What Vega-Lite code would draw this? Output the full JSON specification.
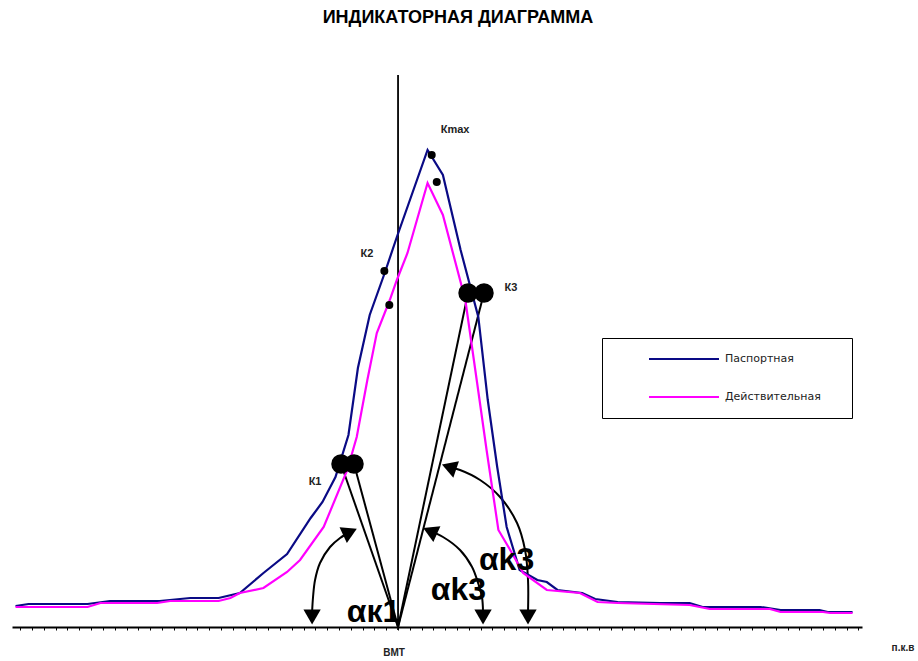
{
  "$schema": "https://vega.github.io/schema/vega-lite/v6.json",
  "width": 850,
  "height": 587,
  "autosize": {"type": "none"},
  "padding": {"left": 12, "top": 40, "right": 56, "bottom": 34},
  "background": "white",
  "title": {"text": "ИНДИКАТОРНАЯ ДИАГРАММА", "font": "Liberation Sans", "fontSize": 18, "fontWeight": "bold", "color": "#000", "anchor": "middle", "dx": 21, "offset": 13},
  "config": {"view": {"stroke": null}, "font": "Liberation Sans"},
  "datasets": {
    "curves": [
      {"series": "Паспортная", "deg": 36, "p": 2.1}, {"series": "Паспортная", "deg": 47, "p": 2.3}, {"series": "Паспортная", "deg": 97, "p": 2.3}, {"series": "Паспортная", "deg": 116, "p": 2.6}, {"series": "Паспортная", "deg": 158, "p": 2.6}, {"series": "Паспортная", "deg": 184, "p": 2.9}, {"series": "Паспортная", "deg": 208, "p": 2.9}, {"series": "Паспортная", "deg": 226, "p": 3.4}, {"series": "Паспортная", "deg": 246, "p": 5.4}, {"series": "Паспортная", "deg": 266, "p": 7.3}, {"series": "Паспортная", "deg": 286, "p": 10.9}, {"series": "Паспортная", "deg": 296, "p": 12.5}, {"series": "Паспортная", "deg": 307, "p": 15.0}, {"series": "Паспортная", "deg": 318, "p": 19.2}, {"series": "Паспортная", "deg": 326, "p": 25.9}, {"series": "Паспортная", "deg": 336, "p": 31.2}, {"series": "Паспортная", "deg": 349, "p": 35.5}, {"series": "Паспортная", "deg": 359, "p": 39.0}, {"series": "Паспортная", "deg": 385, "p": 47.7}, {"series": "Паспортная", "deg": 398, "p": 45.2}, {"series": "Паспортная", "deg": 413, "p": 37.7}, {"series": "Паспортная", "deg": 428, "p": 31.0}, {"series": "Паспортная", "deg": 436, "p": 22.7}, {"series": "Паспортная", "deg": 444, "p": 16.0}, {"series": "Паспортная", "deg": 452, "p": 10.0}, {"series": "Паспортная", "deg": 463, "p": 5.7}, {"series": "Паспортная", "deg": 478, "p": 4.7}, {"series": "Паспортная", "deg": 486, "p": 4.5}, {"series": "Паспортная", "deg": 495, "p": 3.7}, {"series": "Паспортная", "deg": 516, "p": 3.4}, {"series": "Паспортная", "deg": 527, "p": 2.8}, {"series": "Паспортная", "deg": 546, "p": 2.5}, {"series": "Паспортная", "deg": 582, "p": 2.4}, {"series": "Паспортная", "deg": 607, "p": 2.4}, {"series": "Паспортная", "deg": 618, "p": 2.0}, {"series": "Паспортная", "deg": 667, "p": 2.0}, {"series": "Паспортная", "deg": 684, "p": 1.7}, {"series": "Паспортная", "deg": 717, "p": 1.7}, {"series": "Паспортная", "deg": 724, "p": 1.5}, {"series": "Паспортная", "deg": 745, "p": 1.5},
      {"series": "Действительная", "deg": 36, "p": 2.0}, {"series": "Действительная", "deg": 97, "p": 2.0}, {"series": "Действительная", "deg": 108, "p": 2.4}, {"series": "Действительная", "deg": 156, "p": 2.4}, {"series": "Действительная", "deg": 167, "p": 2.6}, {"series": "Действительная", "deg": 208, "p": 2.6}, {"series": "Действительная", "deg": 218, "p": 2.9}, {"series": "Действительная", "deg": 226, "p": 3.4}, {"series": "Действительная", "deg": 246, "p": 3.9}, {"series": "Действительная", "deg": 266, "p": 5.5}, {"series": "Действительная", "deg": 277, "p": 6.7}, {"series": "Действительная", "deg": 297, "p": 10.0}, {"series": "Действительная", "deg": 317, "p": 15.7}, {"series": "Действительная", "deg": 325, "p": 19.0}, {"series": "Действительная", "deg": 334, "p": 24.7}, {"series": "Действительная", "deg": 342, "p": 29.4}, {"series": "Действительная", "deg": 353, "p": 32.7}, {"series": "Действительная", "deg": 359, "p": 34.7}, {"series": "Действительная", "deg": 368, "p": 37.4}, {"series": "Действительная", "deg": 385, "p": 44.4}, {"series": "Действительная", "deg": 398, "p": 41.2}, {"series": "Действительная", "deg": 417, "p": 32.7}, {"series": "Действительная", "deg": 427, "p": 24.4}, {"series": "Действительная", "deg": 435, "p": 17.7}, {"series": "Действительная", "deg": 445, "p": 9.7}, {"series": "Действительная", "deg": 455, "p": 7.7}, {"series": "Действительная", "deg": 466, "p": 5.4}, {"series": "Действительная", "deg": 486, "p": 3.7}, {"series": "Действительная", "deg": 514, "p": 3.4}, {"series": "Действительная", "deg": 529, "p": 2.5}, {"series": "Действительная", "deg": 546, "p": 2.4}, {"series": "Действительная", "deg": 607, "p": 2.2}, {"series": "Действительная", "deg": 624, "p": 1.8}, {"series": "Действительная", "deg": 675, "p": 1.8}, {"series": "Действительная", "deg": 684, "p": 1.5}, {"series": "Действительная", "deg": 720, "p": 1.5}, {"series": "Действительная", "deg": 726, "p": 1.4}, {"series": "Действительная", "deg": 745, "p": 1.4}
    ],
    "arcs": [
      {"arc": "αк1", "seq": 1, "deg": 287.2, "p": 1.5}, {"arc": "αк1", "seq": 2, "deg": 288.0, "p": 3.0}, {"arc": "αк1", "seq": 3, "deg": 289.7, "p": 4.7}, {"arc": "αк1", "seq": 4, "deg": 293.9, "p": 6.4}, {"arc": "αк1", "seq": 5, "deg": 302.4, "p": 8.0}, {"arc": "αк1", "seq": 6, "deg": 310.9, "p": 8.9}, {"arc": "αк1", "seq": 7, "deg": 319.3, "p": 9.5},
      {"arc": "αk3a", "seq": 1, "deg": 432.0, "p": 1.5}, {"arc": "αk3a", "seq": 2, "deg": 431.1, "p": 3.0}, {"arc": "αk3a", "seq": 3, "deg": 427.8, "p": 4.4}, {"arc": "αk3a", "seq": 4, "deg": 422.7, "p": 6.0}, {"arc": "αk3a", "seq": 5, "deg": 412.5, "p": 7.7}, {"arc": "αk3a", "seq": 6, "deg": 398.1, "p": 9.0}, {"arc": "αk3a", "seq": 7, "deg": 387.1, "p": 9.6},
      {"arc": "αk3b", "seq": 1, "deg": 470.1, "p": 1.5}, {"arc": "αk3b", "seq": 2, "deg": 470.1, "p": 4.7}, {"arc": "αk3b", "seq": 3, "deg": 467.6, "p": 7.7}, {"arc": "αk3b", "seq": 4, "deg": 460.8, "p": 10.4}, {"arc": "αk3b", "seq": 5, "deg": 446.4, "p": 13.0}, {"arc": "αk3b", "seq": 6, "deg": 429.5, "p": 14.7}, {"arc": "αk3b", "seq": 7, "deg": 412.5, "p": 15.7}, {"arc": "αk3b", "seq": 8, "deg": 403.2, "p": 16.0}
    ],
    "heads_bottom": [
      {"deg": 287.2, "p": 1.0}, {"deg": 432.0, "p": 1.0}, {"deg": 470.1, "p": 1.0}
    ],
    "heads_top": [
      {"deg": 319.3, "p": 9.5, "heading": 65}, {"deg": 387.1, "p": 9.6, "heading": 294}, {"deg": 403.2, "p": 16.0, "heading": 289}
    ],
    "klines": [
      {"deg": 360, "p": 0, "deg2": 311.7, "p2": 16.3}, {"deg": 360, "p": 0, "deg2": 322.7, "p2": 16.3},
      {"deg": 360, "p": 0, "deg2": 419.3, "p2": 33.4}, {"deg": 360, "p": 0, "deg2": 432.8, "p2": 33.4}
    ],
    "dots": [
      {"deg": 388.5, "p": 47.2, "kind": "small"}, {"deg": 392.8, "p": 44.5, "kind": "small"},
      {"deg": 348.4, "p": 35.6, "kind": "small"}, {"deg": 352.6, "p": 32.2, "kind": "small"},
      {"deg": 311.7, "p": 16.3, "kind": "large"}, {"deg": 322.7, "p": 16.3, "kind": "large"},
      {"deg": 419.3, "p": 33.4, "kind": "large"}, {"deg": 432.8, "p": 33.4, "kind": "large"}
    ],
    "klabels": [
      {"deg": 289.7, "p": 14.5, "text": "К1"}, {"deg": 333.7, "p": 37.3, "text": "К2"},
      {"deg": 455.7, "p": 33.9, "text": "К3"}, {"deg": 408.3, "p": 49.7, "text": "Кmax"}
    ],
    "alabels": [
      {"deg": 339.2, "p": 0.5, "text": "αк1"}, {"deg": 411.2, "p": 2.7, "text": "αk3"}, {"deg": 451.9, "p": 5.7, "text": "αk3"}
    ],
    "axlabels": [
      {"deg": 356.6, "p": -2.6, "text": "ВМТ"}, {"deg": 787.7, "p": -2.1, "text": "п.к.в"}
    ]
  },
  "encoding": {
    "x": {"field": "deg", "type": "quantitative", "scale": {"domain": [33, 753], "nice": false, "zero": false},
      "axis": {"orient": "bottom", "title": null, "labels": false, "grid": false, "domainColor": "#000", "domainWidth": 2, "tickColor": "#000", "tickSize": 3, "tickWidth": 1, "tickCount": 72}},
    "y": {"field": "p", "type": "quantitative", "scale": {"domain": [0, 58.7], "nice": false, "zero": false}, "axis": null}
  },
  "layer": [
    {
      "data": {"values": [{"deg": 360, "p": -0.3, "p2": 55.2}]},
      "mark": {"type": "rule", "color": "#000", "strokeWidth": 1.8},
      "encoding": {"y2": {"field": "p2"}}
    },
    {
      "data": {"name": "klines"},
      "mark": {"type": "rule", "color": "#000", "strokeWidth": 2},
      "encoding": {"x2": {"field": "deg2"}, "y2": {"field": "p2"}}
    },
    {
      "data": {"name": "arcs"},
      "mark": {"type": "line", "interpolate": "catmull-rom", "color": "#000", "strokeWidth": 2},
      "encoding": {"detail": {"field": "arc"}, "order": {"field": "seq"}}
    },
    {
      "data": {"name": "heads_bottom"},
      "mark": {"type": "point", "shape": "triangle-down", "filled": true, "color": "#000", "size": 300, "opacity": 1}
    },
    {
      "data": {"name": "heads_top"},
      "mark": {"type": "point", "shape": "triangle-up", "filled": true, "color": "#000", "size": 300, "opacity": 1},
      "encoding": {"angle": {"field": "heading", "type": "quantitative", "scale": null}}
    },
    {
      "data": {"name": "curves"},
      "mark": {"type": "line", "strokeWidth": 2.2},
      "encoding": {
        "color": {"field": "series", "type": "nominal",
          "scale": {"domain": ["Паспортная", "Действительная"], "range": ["#0a0a85", "#ff00ff"]},
          "legend": {"orient": "none", "legendX": 590, "legendY": 298, "title": " ", "titleOrient": "right", "titleOpacity": 0, "titlePadding": 20,
            "strokeColor": "#000", "fillColor": "white", "padding": 11, "clipHeight": 20, "rowPadding": 18,
            "symbolType": "stroke", "symbolSize": 4900, "symbolStrokeWidth": 2, "symbolOffset": 35, "labelOffset": 5,
            "labelFont": "DejaVu Sans", "labelFontSize": 11, "labelColor": "#222"}
        }
      }
    },
    {
      "data": {"name": "dots"},
      "mark": {"type": "point", "shape": "circle", "filled": true, "color": "#000", "opacity": 1},
      "encoding": {"size": {"field": "kind", "type": "nominal", "scale": {"domain": ["small", "large"], "range": [64, 380]}, "legend": null}}
    },
    {
      "data": {"name": "klabels"},
      "mark": {"type": "text", "font": "Liberation Sans", "fontSize": 11, "fontWeight": "bold", "color": "#222", "align": "center", "baseline": "middle"},
      "encoding": {"text": {"field": "text"}}
    },
    {
      "data": {"name": "alabels"},
      "mark": {"type": "text", "font": "Liberation Sans", "fontSize": 32, "fontWeight": "bold", "color": "#000", "align": "center", "baseline": "alphabetic"},
      "encoding": {"text": {"field": "text"}}
    },
    {
      "data": {"name": "axlabels"},
      "mark": {"type": "text", "font": "Liberation Sans", "fontSize": 10, "fontWeight": "bold", "color": "#222", "align": "center", "baseline": "middle"},
      "encoding": {"text": {"field": "text"}}
    }
  ]
}
